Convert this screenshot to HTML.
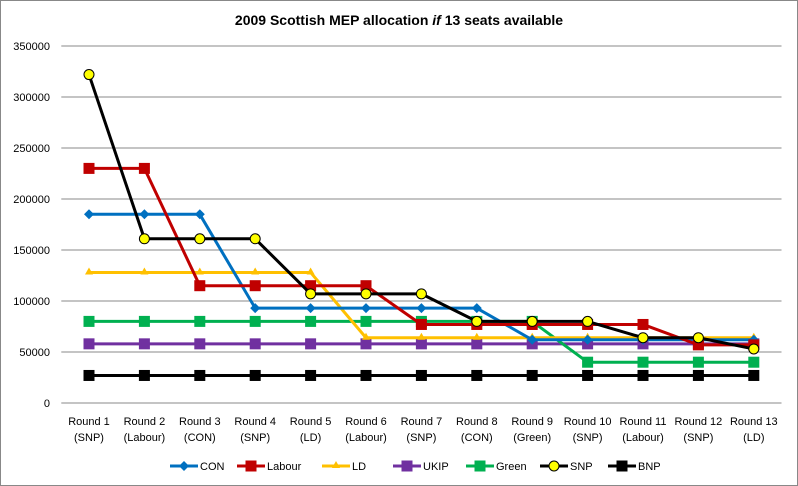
<!DOCTYPE html>
<html><head><meta charset="utf-8"><style>
body{margin:0;background:#fff;}
svg{display:block;font-family:"Liberation Sans",Calibri,sans-serif;}
</style></head><body>
<svg id="c" width="798" height="486">
<rect x="0.5" y="0.5" width="797" height="485" fill="#fff" stroke="#888"/>
<text x="399" y="25" text-anchor="middle" font-size="14" font-weight="bold">2009 Scottish MEP allocation <tspan font-style="italic">if</tspan> 13 seats available</text>
<g id="grid"></g><g id="series"></g><g id="legend"></g>
</svg>
<script>
const categories=["Round 1|(SNP)","Round 2|(Labour)","Round 3|(CON)","Round 4|(SNP)","Round 5|(LD)","Round 6|(Labour)","Round 7|(SNP)","Round 8|(CON)","Round 9|(Green)","Round 10|(SNP)","Round 11|(Labour)","Round 12|(SNP)","Round 13|(LD)"];
const yTicks=[0,50000,100000,150000,200000,250000,300000,350000];
const seriesNames=["CON","Labour","LD","UKIP","Green","SNP","BNP"];
const conVals=[185000,185000,185000,93000,93000,93000,93000,93000,62000,62000,62000,62000,62000];
const labourVals=[230000,230000,115000,115000,115000,115000,77000,77000,77000,77000,77000,57000,57000];
const ldVals=[128000,128000,128000,128000,128000,64000,64000,64000,64000,64000,64000,64000,64000];
const ukipVals=[58000,58000,58000,58000,58000,58000,58000,58000,58000,58000,58000,58000,58000];
const greenVals=[80000,80000,80000,80000,80000,80000,80000,80000,80000,40000,40000,40000,40000];
const snpVals=[322000,161000,161000,161000,107000,107000,107000,80000,80000,80000,64000,64000,53000];
const bnpVals=[27000,27000,27000,27000,27000,27000,27000,27000,27000,27000,27000,27000,27000];
const NS="http://www.w3.org/2000/svg";
const x0=61.3,step=55.4,yb=403,yTop=46,yMax=350000;
const X=i=>x0+step*(i+0.5);
const Y=v=>yb-(v/yMax)*(yb-yTop);
function mk(t,a,p){const e=document.createElementNS(NS,t);for(const k in a)e.setAttribute(k,a[k]);p.appendChild(e);return e;}
const grid=document.getElementById('grid');
yTicks.forEach(v=>{
 const l=mk('line',{x1:x0,x2:x0+step*13,y1:Y(v),y2:Y(v),stroke:'#888','stroke-width':1},grid);
 
 
 const t=mk('text',{x:50,y:Y(v)+4,'text-anchor':'end','font-size':11},grid);t.textContent=v;
 
 
});
categories.forEach((c,i)=>{
 const [a,b]=c.split('|');
 const t=mk('text',{x:X(i),y:425,'text-anchor':'middle','font-size':11},grid);t.textContent=a;
 
 
 const t2=mk('text',{x:X(i),y:441,'text-anchor':'middle','font-size':11},grid);t2.textContent=b;
 
 
});
const colors=["#0070C0","#C00000","#FFC000","#7030A0","#00B050","#000000","#000000"];
const markers=["diamond","square","triangle","square","square","circle","square"];
const vals=[conVals,labourVals,ldVals,ukipVals,greenVals,snpVals,bnpVals];
const sg=document.getElementById('series');
function marker(type,x,y,col,g){
 let e;
 if(type=='diamond')e=mk('polygon',{points:`${x},${y-5} ${x+5},${y} ${x},${y+5} ${x-5},${y}`,fill:col},g);
 else if(type=='square')e=mk('rect',{x:x-5.5,y:y-5.5,width:11,height:11,fill:col},g);
 else if(type=='triangle')e=mk('polygon',{points:`${x},${y-5} ${x+4},${y+2} ${x-4},${y+2}`,fill:col},g);
 else e=mk('circle',{cx:x,cy:y,r:5,fill:'#FFFF00',stroke:'#000','stroke-width':1},g);
 return e;
}
const order=[6,3,4,2,0,1,5];
order.forEach(s=>{
 const g=mk('g',{},sg);
 
 
 const pl=mk('polyline',{points:vals[s].map((v,i)=>X(i)+','+Y(v)).join(' '),fill:'none',stroke:colors[s],'stroke-width':3,'stroke-linejoin':'round'},g);
 
 
 vals[s].forEach((v,i)=>{
  const m=marker(markers[s],X(i),Y(v),colors[s],g);
  
  
 });
});
const lg=document.getElementById('legend');
const lx=[170,237,322,393,466,540,608];
seriesNames.forEach((n,s)=>{
 const g=mk('g',{},lg);
 
 
 mk('line',{x1:lx[s],x2:lx[s]+28,y1:466,y2:466,stroke:colors[s],'stroke-width':3},g);
 marker(markers[s],lx[s]+14,466,colors[s],g);
 const t=mk('text',{x:lx[s]+30,y:470,'font-size':11},g);t.textContent=n;
});
</script>
</body></html>
